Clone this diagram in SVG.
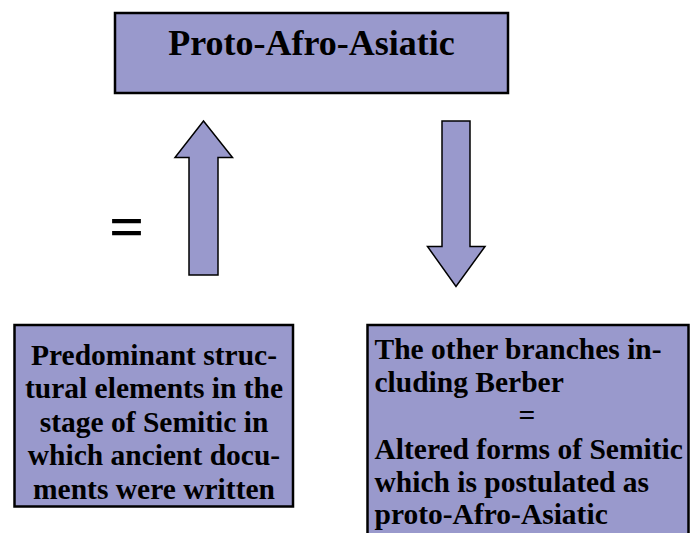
<svg xmlns="http://www.w3.org/2000/svg" width="694" height="533" viewBox="0 0 694 533">
<style>
.box{fill:#9999cc;stroke:#000;stroke-width:2.5}
.arrow{fill:#9999cc;stroke:#000;stroke-width:1.5;stroke-linejoin:miter}
.t{font-family:"Liberation Serif","Times New Roman",serif;font-weight:bold;fill:#000}
.c{text-anchor:middle}
</style>
<rect width="694" height="533" fill="#fff"/>
<g id="proto-afro-asiatic">
<rect class="box" x="115" y="13" width="393" height="80"/>
<text class="t c" x="311.5" y="55" font-size="36">Proto-Afro-Asiatic</text>
</g>
<g id="connectors">
<polygon class="arrow" points="203.5,121 232.5,157.5 218,157.5 218,275 189,275 189,157.5 175,157.5"/>
<polygon class="arrow" points="442,121 470,121 470,246.5 485,246.5 456,286.5 427.5,246.5 442,246.5"/>
</g>
<g id="equals">
<text class="t" x="109" y="247" font-size="62">=</text>
</g>
<g id="semitic-elements">
<rect class="box" x="14.5" y="325" width="278.5" height="181.5"/>
<g class="t c" font-size="29.5">
<text x="154" y="364.5">Predominant struc-</text>
<text x="154" y="398">tural elements in the</text>
<text x="154" y="431.5">stage of Semitic in</text>
<text x="154" y="465">which ancient docu-</text>
<text x="154" y="498.5">ments were written</text>
</g>
</g>
<g id="other-branches">
<rect class="box" x="367.5" y="325" width="321" height="220"/>
<g class="t" font-size="29.5">
<text x="374.5" y="359">The other branches in-</text>
<text x="374.5" y="392">cluding Berber</text>
<text class="c" x="527" y="425">=</text>
<text x="374.5" y="458.5">Altered forms of Semitic</text>
<text x="374.5" y="491.5">which is postulated as</text>
<text x="374.5" y="524">proto-Afro-Asiatic</text>
</g>
</g>
</svg>
